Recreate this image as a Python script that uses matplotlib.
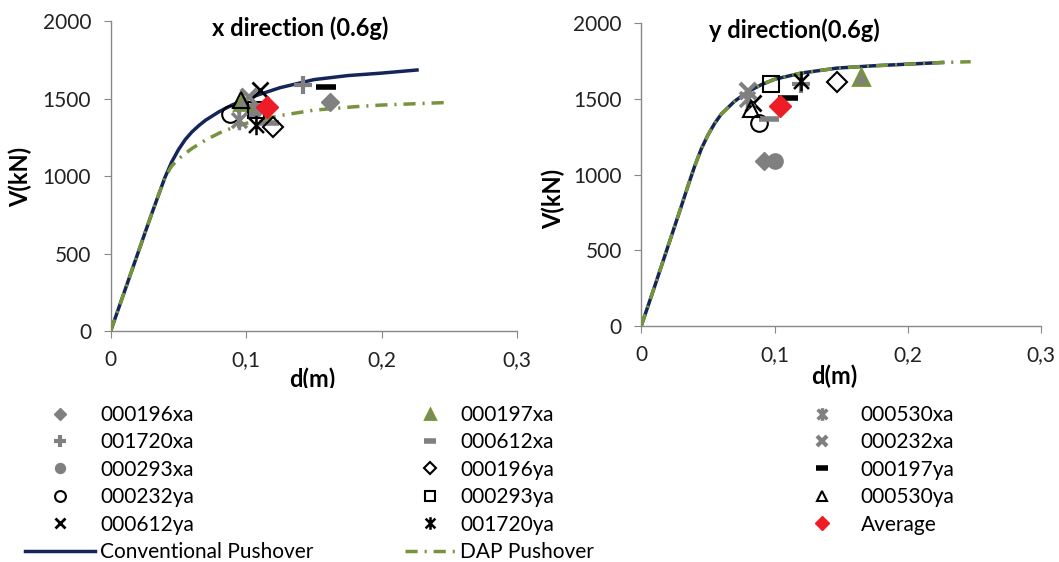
import matplotlib
matplotlib.use("Agg")
import matplotlib.pyplot as plt
from matplotlib.path import Path
from matplotlib.patches import Rectangle
from matplotlib.lines import Line2D

plt.rcParams['font.family'] = ['Lato', 'DejaVu Sans']

# pushover curves, x direction
x_conv_d = [0, 0.02, 0.03, 0.04, 0.045, 0.05, 0.055, 0.06, 0.065, 0.07, 0.08, 0.09, 0.1, 0.11, 0.125, 0.15, 0.175, 0.2, 0.226]
x_conv_v = [0, 500, 750, 990, 1090, 1170, 1235, 1285, 1325, 1360, 1415, 1460, 1495, 1527, 1570, 1622, 1648, 1664, 1684]
x_dap_d = [0, 0.02, 0.03, 0.04, 0.045, 0.05, 0.055, 0.06, 0.07, 0.083, 0.1, 0.125, 0.15, 0.18, 0.2, 0.25]
x_dap_v = [0, 500, 750, 990, 1065, 1110, 1145, 1178, 1232, 1290, 1340, 1390, 1425, 1447, 1458, 1475]

# pushover curves, y direction
y_conv_d = [0, 0.01, 0.02, 0.03, 0.035, 0.04, 0.045, 0.05, 0.055, 0.06, 0.07, 0.08, 0.09, 0.1, 0.12, 0.147, 0.174, 0.2, 0.226]
y_conv_v = [0, 260, 525, 790, 925, 1055, 1170, 1262, 1338, 1400, 1485, 1548, 1594, 1630, 1671, 1704, 1719, 1730, 1741]
y_dap_d = [0, 0.01, 0.02, 0.03, 0.035, 0.04, 0.045, 0.05, 0.055, 0.06, 0.07, 0.08, 0.09, 0.1, 0.12, 0.147, 0.174, 0.2, 0.226, 0.247]
y_dap_v = [0, 260, 525, 790, 925, 1055, 1170, 1262, 1338, 1400, 1485, 1548, 1594, 1630, 1671, 1704, 1719, 1730, 1741, 1746]

# time history results (d, V) per record
records = ['000196xa', '001720xa', '000293xa', '000232ya', '000612ya',
           '000197xa', '000612xa', '000196ya', '000293ya', '001720ya',
           '000530xa', '000232xa', '000197ya', '000530ya', 'Average']
x_dir_d = [0.162, 0.142, 0.106, 0.088, 0.110,
           0.097, 0.117, 0.120, 0.107, 0.107,
           0.095, 0.102, 0.159, 0.096, 0.115]
x_dir_v = [1479, 1587, 1425, 1400, 1555,
           1480, 1345, 1316, 1426, 1329,
           1361, 1510, 1576, 1490, 1447]
y_dir_d = [0.092, 0.120, 0.100, 0.088, 0.084,
           0.165, 0.0955, 0.147, 0.097, 0.120,
           0.079, 0.080, 0.110, 0.082, 0.104]
y_dir_v = [1090, 1600, 1090, 1340, 1476,
           1642, 1365, 1609, 1598, 1620,
           1498, 1554, 1505, 1435, 1452]

navy = '#14255a'
green = '#77933c'
gray = '#808080'

star = Path([(-1, -1), (1, 1), (-1, 1), (1, -1), (0, -1.3), (0, 1.3)],
            [Path.MOVETO, Path.LINETO, Path.MOVETO, Path.LINETO, Path.MOVETO, Path.LINETO])

styles = {
    '000196xa': dict(marker='D', ms=9, mfc=gray, mec=gray),
    '001720xa': dict(marker='+', ms=13, mfc=gray, mec=gray, mew=3),
    '000293xa': dict(marker='o', ms=11, mfc=gray, mec=gray),
    '000232ya': dict(marker='o', ms=12, mfc='none', mec='black', mew=1.5),
    '000612ya': dict(marker='x', ms=12, mfc='none', mec='black', mew=2),
    '000197xa': dict(marker='^', ms=12, mfc=gray, mec=green, mew=2),
    '000612xa': dict(marker='_', ms=14, mfc=gray, mec=gray, mew=4),
    '000196ya': dict(marker='D', ms=10, mfc='none', mec='black', mew=1.5),
    '000293ya': dict(marker='s', ms=12, mfc='none', mec='black', mew=1.5),
    '001720ya': dict(marker=star, ms=14, mfc='none', mec='black', mew=1.8),
    '000530xa': dict(marker=star, ms=14, mfc='none', mec=gray, mew=2.5),
    '000232xa': dict(marker='x', ms=11, mfc='none', mec=gray, mew=3),
    '000197ya': dict(marker='_', ms=14, mfc='black', mec='black', mew=4),
    '000530ya': dict(marker='^', ms=12, mfc='none', mec='black', mew=1.5),
    'Average': dict(marker='D', ms=11, mfc='#ee1c25', mec='#ee1c25'),
}

fig = plt.figure(figsize=(10.59, 5.62), dpi=100)
ax1 = fig.add_axes([0.1045, 0.411, 0.384, 0.5516])
ax2 = fig.add_axes([0.6056, 0.4205, 0.3777, 0.538])


def draw_panel(ax, cd, cv, dd, dv, pd_, pv, title, tpos, ylpos, xlpos):
    ax.plot(cd, cv, color=navy, lw=2.5, zorder=2)
    ax.plot(dd, dv, color=green, lw=2.5, dashes=(3.5, 2, 0.6, 2), zorder=3)
    handles = []
    for name, d, v in zip(records, pd_, pv):
        h, = ax.plot([d], [v], ls='none', zorder=4, **styles[name])
        handles.append(h)
    ax.set_xlim(0, 0.3)
    ax.set_ylim(0, 2000)
    ax.set_xticks([0, 0.1, 0.2, 0.3])
    ax.set_xticklabels(['0', '0,1', '0,2', '0,3'])
    ax.set_yticks([0, 500, 1000, 1500, 2000])
    for s in ['top', 'right']:
        ax.spines[s].set_visible(False)
    for s in ['left', 'bottom']:
        ax.spines[s].set_color('#888888')
        ax.spines[s].set_linewidth(1)
    ax.tick_params(axis='both', colors='#888888', labelcolor='#222222',
                   labelsize=15, length=5, direction='out')
    ax.tick_params(axis='y', pad=9)
    ax.tick_params(axis='x', pad=9)
    ax.set_ylabel('V(kN)', fontsize=17, fontweight='bold')
    ax.set_xlabel('d(m)', fontsize=17, fontweight='bold')
    ax.yaxis.set_label_coords(*ylpos)
    ax.xaxis.set_label_coords(*xlpos)
    ax.text(tpos[0], tpos[1], title, transform=ax.transAxes, ha='center', va='center',
            fontsize=17, fontweight='bold')
    return handles


handles = draw_panel(ax1, x_conv_d, x_conv_v, x_dap_d, x_dap_v, x_dir_d, x_dir_v,
                     'x direction (0.6g)', (0.466, 0.977), (-0.194, 0.497), (0.495, -0.119))
draw_panel(ax2, y_conv_d, y_conv_v, y_dap_d, y_dap_v, y_dir_d, y_dir_v,
           'y direction(0.6g)', (0.382, 0.978), (-0.19, 0.419), (0.482, -0.127))

# the lower part of the left x label is hidden under the legend in the original
fig.patches.append(Rectangle((0, 0), 0.5, 174 / 562, transform=fig.transFigure,
                             facecolor='white', edgecolor='none', zorder=1))

conv_h = Line2D([], [], color=navy, lw=2.5)
dap_h = Line2D([], [], color=green, lw=2.5, dashes=(3.5, 2, 0.6, 2))

hmap = dict(zip(records, handles))
col1 = [hmap[n] for n in records[0:5]] + [conv_h]
lab1 = records[0:5] + ['Conventional Pushover']
col2 = [hmap[n] for n in records[5:10]] + [dap_h]
lab2 = records[5:10] + ['DAP Pushover']
col3 = [hmap[n] for n in records[10:15]]
lab3 = records[10:15]

top = (562 - 405) / 562
common = dict(loc='upper left', frameon=False, fontsize=15, borderpad=0, borderaxespad=0,
              labelspacing=0.355, numpoints=1, markerscale=0.65)
fig.legend(col1, lab1, bbox_to_anchor=(25 / 1059, top), handlelength=3.35, handletextpad=0.25, **common)
fig.legend(col2, lab2, bbox_to_anchor=(405 / 1059, top), handlelength=2.4, handletextpad=0.25, **common)
fig.legend(col3, lab3, bbox_to_anchor=(792 / 1059, top), handlelength=2.9, handletextpad=0.4, **common)

fig.savefig('out.png', dpi=100)
